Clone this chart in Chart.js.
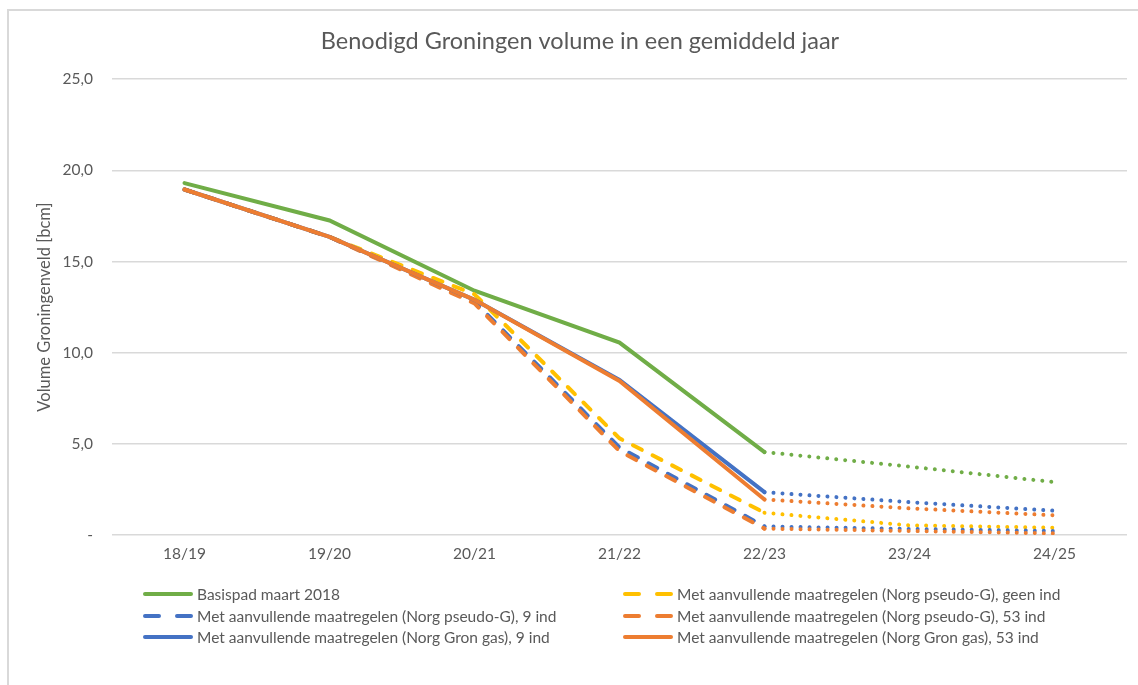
<!DOCTYPE html>
<html>
<head>
<meta charset="utf-8">
<script src="https://cdn.jsdelivr.net/npm/chart.js@4"></script>
<style>
  html, body { margin: 0; padding: 0; background: #fff; }
  #wrap { position: relative; width: 1138px; height: 685px; overflow: hidden; }
  #frame { position: absolute; left: 7px; top: 9px; width: 1200px; height: 800px;
           border-left: 2px solid #d9d9d9; border-top: 2px solid #d9d9d9; }
  canvas { position: absolute; left: 0; top: 0; }
</style>
</head>
<body>
<div id="wrap">
  <div id="frame"></div>
  <canvas id="chart" width="1138" height="685"></canvas>
</div>
<script>
// Gegevens (bcm)
const jaren = ["18/19", "19/20", "20/21", "21/22", "22/23", "23/24", "24/25"];
const basispad = [19.3, 17.25, 13.4, 10.55, 4.55, 3.75, 2.9];
const pseudoGeenInd = [18.95, 16.35, 13.2, 5.3, 1.22, 0.53, 0.4];
const pseudo9Ind = [18.95, 16.35, 12.8, 4.8, 0.47, 0.33, 0.22];
const pseudo53Ind = [18.95, 16.35, 12.7, 4.6, 0.35, 0.22, 0.09];
const gron9Ind = [18.95, 16.35, 12.9, 8.5, 2.35, 1.8, 1.33];
const gron53Ind = [18.95, 16.35, 12.9, 8.45, 1.95, 1.46, 1.08];

const GREEN = "#70ad47", YELLOW = "#ffc000", BLUE = "#4472c4", ORANGE = "#ed7d31";
const DASH = [10, 12];
const DOT = [0.01, 9];
const FONT = "Lato, 'Open Sans', sans-serif";

// vanaf 22/23 gestippeld
function segStyle(dashed) {
    return {
        borderDash: (ctx) => ctx.p0DataIndex >= 4 ? DOT : (dashed ? DASH : [])
    };
}

let volgorde = 6;
function lijn(label, data, color, dashed) {
    volgorde--;
    return {
        label: label,
        data: data,
        order: volgorde, // latere reeksen bovenop
        borderColor: color,
        backgroundColor: color,
        borderWidth: 4,
        borderCapStyle: "round",
        pointRadius: 0,
        tension: 0,
        dashedLegend: dashed,
        segment: segStyle(dashed)
    };
}

// legenda in twee kolommen, zoals in Excel
const legendPlugin = {
    id: "twoColLegend",
    afterDraw(chart) {
        const c = chart.ctx;
        const bottom = chart.chartArea.bottom;
        const cols = [143, 623];
        const rows = [59, 81, 102];
        const layout = [[0, 0, 0], [2, 0, 1], [4, 0, 2], [1, 1, 0], [3, 1, 1], [5, 1, 2]];
        c.save();
        c.font = "15.5px " + FONT;
        c.textBaseline = "middle";
        c.fillStyle = "#595959";
        layout.forEach(([i, col, row]) => {
            const ds = chart.data.datasets[i];
            const x = cols[col], y = bottom + rows[row];
            c.beginPath();
            c.strokeStyle = ds.borderColor;
            c.lineWidth = 4;
            c.lineCap = "round";
            c.setLineDash(ds.dashedLegend ? [14, 18] : []);
            c.moveTo(x + 2, y);
            c.lineTo(x + 48, y);
            c.stroke();
            c.setLineDash([]);
            c.fillText(ds.label, x + 54, y + 1);
        });
        c.restore();
    }
};

new Chart(document.getElementById("chart"), {
    type: "line",
    data: {
        labels: jaren,
        datasets: [
            lijn("Basispad maart 2018", basispad, GREEN, false),
            lijn("Met aanvullende maatregelen (Norg pseudo-G), geen ind", pseudoGeenInd, YELLOW, true),
            lijn("Met aanvullende maatregelen (Norg pseudo-G), 9 ind", pseudo9Ind, BLUE, true),
            lijn("Met aanvullende maatregelen (Norg pseudo-G), 53 ind", pseudo53Ind, ORANGE, true),
            lijn("Met aanvullende maatregelen (Norg Gron gas), 9 ind", gron9Ind, BLUE, false),
            lijn("Met aanvullende maatregelen (Norg Gron gas), 53 ind", gron53Ind, ORANGE, false)
        ]
    },
    options: {
        responsive: false,
        animation: false,
        layout: { padding: { left: 33, right: 11, top: 0, bottom: 120 } },
        plugins: {
            legend: { display: false },
            tooltip: { enabled: false },
            title: {
                display: true,
                text: "Benodigd Groningen volume in een gemiddeld jaar",
                color: "#595959",
                font: { family: FONT, size: 23.5, weight: "normal" },
                padding: { top: 27, bottom: 24 }
            }
        },
        scales: {
            x: {
                offset: true,
                grid: { display: false, drawTicks: false },
                border: { display: false },
                ticks: { color: "#595959", font: { family: FONT, size: 15.5 }, padding: 10 },
                afterFit: (s) => { s.height = 30; }
            },
            y: {
                min: 0,
                max: 25,
                ticks: {
                    stepSize: 5,
                    color: "#595959",
                    font: { family: FONT, size: 15.5 },
                    padding: 19,
                    callback: (v) => v === 0 ? "-" : v.toFixed(1).replace(".", ",")
                },
                grid: { color: "#d9d9d9", lineWidth: 1.5, drawTicks: false },
                border: { display: false },
                title: {
                    display: true,
                    text: "Volume Groningenveld [bcm]",
                    color: "#595959",
                    font: { family: FONT, size: 16.5 },
                    padding: { top: 2, bottom: 0 }
                },
                afterFit: (s) => { s.width = 79; }
            }
        }
    },
    plugins: [legendPlugin]
});
</script>
</body>
</html>
